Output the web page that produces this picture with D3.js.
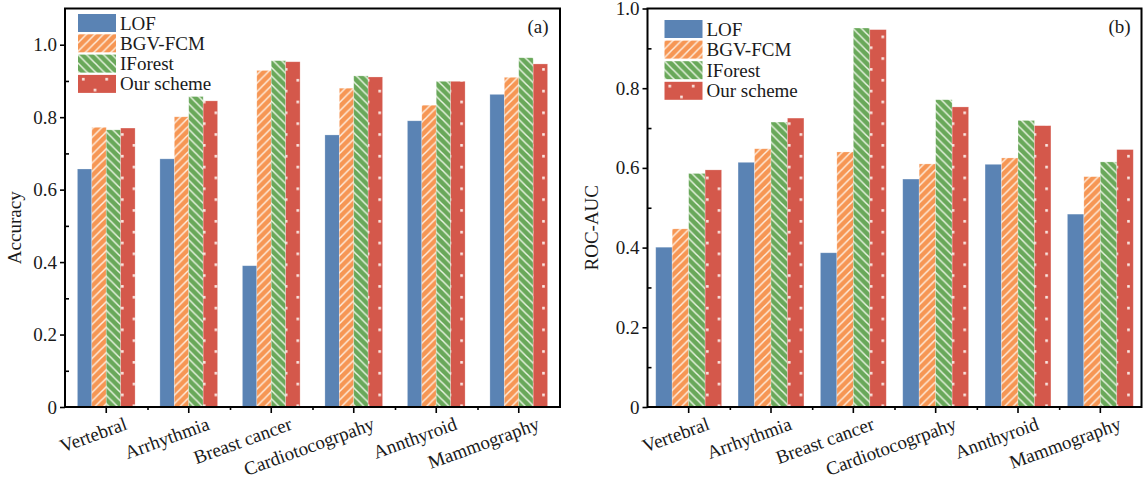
<!DOCTYPE html>
<html>
<head>
<meta charset="utf-8">
<script src="https://cdn.jsdelivr.net/npm/d3@7"></script>
<style>
  html, body { margin: 0; padding: 0; background: #fff; }
  svg text { font-family: 'Liberation Serif', 'Times New Roman', serif; fill: #1a1a1a; }
</style>
</head>
<body>
<svg id="chart" width="1143" height="489"></svg>
<script>
const categories = ['Vertebral', 'Arrhythmia', 'Breast cancer', 'Cardiotocogrpahy', 'Annthyroid', 'Mammography']
const seriesNames = ['LOF', 'BGV-FCM', 'IForest', 'Our scheme']

// (a) Accuracy
const accLOF = [0.657, 0.685, 0.390, 0.751, 0.790, 0.863]
const accBGV = [0.772, 0.801, 0.929, 0.880, 0.833, 0.910]
const accIForest = [0.765, 0.857, 0.956, 0.914, 0.899, 0.964]
const accOurs = [0.770, 0.845, 0.953, 0.911, 0.899, 0.947]

// (b) ROC-AUC
const aucLOF = [0.401, 0.614, 0.387, 0.572, 0.609, 0.484]
const aucBGV = [0.447, 0.648, 0.640, 0.610, 0.625, 0.578]
const aucIForest = [0.586, 0.715, 0.951, 0.771, 0.719, 0.615]
const aucOurs = [0.595, 0.725, 0.947, 0.753, 0.706, 0.646]

const yTicksMajor = [0, 0.2, 0.4, 0.6, 0.8, 1.0]
const yTicksMinor = [0.1, 0.3, 0.5, 0.7, 0.9]

const colors = ['#5a83b4', '#f69654', '#69a85a', '#d4584b']
const fills = ['url(#pLOF)', 'url(#pBGV)', 'url(#pIF)', 'url(#pOurs)']
const FS = 19

const svg = d3.select('#chart')
const defs = svg.append('defs')

// hatch / dot patterns
const H = 8.5
function hatch(id, bg, line, d) {
  const p = defs.append('pattern').attr('id', id)
    .attr('patternUnits', 'userSpaceOnUse').attr('width', H).attr('height', H)
  p.append('rect').attr('width', H).attr('height', H).attr('fill', bg)
  p.append('path').attr('d', d).attr('stroke', line).attr('stroke-width', 1.5).attr('fill', 'none')
}
defs.append('pattern').attr('id', 'pLOF')
  .attr('patternUnits', 'userSpaceOnUse').attr('width', H).attr('height', H)
  .append('rect').attr('width', H).attr('height', H).attr('fill', colors[0])
hatch('pBGV', colors[1], '#feeedf',
  `M-1,${H + 1} L${H + 1},-1 M-1,1 L1,-1 M${H - 1},${H + 1} L${H + 1},${H - 1}`)
hatch('pIF', colors[2], '#e9f4e2',
  `M-1,-1 L${H + 1},${H + 1} M${H - 1},-1 L${H + 1},1 M-1,${H - 1} L1,${H + 1}`)
const pd = defs.append('pattern').attr('id', 'pOurs')
  .attr('patternUnits', 'userSpaceOnUse').attr('width', 23.4).attr('height', 21.7)
pd.append('rect').attr('width', 23.4).attr('height', 21.7).attr('fill', colors[3])
pd.append('rect').attr('x', 4).attr('y', 3).attr('width', 2.6).attr('height', 2.6).attr('fill', '#fbeae5')
pd.append('rect').attr('x', 15.7).attr('y', 13.85).attr('width', 2.6).attr('height', 2.6).attr('fill', '#fbeae5')

function panel(opts) {
  const { x0, x1, yTop, yBot, yMax, values, barPad, yTitle, tag, titleX, legendX, legendY, legendStep } = opts
  const g = svg.append('g')

  const x = d3.scaleBand().domain(categories).range([x0, x1]).padding(0)
  const xs = d3.scaleBand().domain(seriesNames).range([0, x.bandwidth()]).paddingInner(0).paddingOuter(barPad)
  const y = d3.scaleLinear().domain([0, yMax]).range([yBot, yTop])

  // bars
  seriesNames.forEach((s, si) => {
    g.append('g').selectAll('rect')
      .data(values[si])
      .join('rect')
      .attr('x', (d, i) => x(categories[i]) + xs(s))
      .attr('y', d => y(d))
      .attr('width', xs.bandwidth())
      .attr('height', d => y(0) - y(d))
      .attr('fill', fills[si])
      .attr('stroke', 'rgba(255,255,255,0.35)')
      .attr('stroke-width', 0.7)
  })

  // y axis major (outward) and minor (inward)
  const yAx = g.append('g').attr('transform', `translate(${x0},0)`)
    .call(d3.axisLeft(y).tickValues(yTicksMajor).tickSize(5).tickPadding(3)
      .tickFormat(d => d === 0 ? '0' : d3.format('.1f')(d)))
  yAx.select('.domain').remove()
  yAx.selectAll('line').attr('stroke', '#000').attr('stroke-width', 1.6)
  yAx.selectAll('text').attr('font-size', FS).attr('font-family', "'Liberation Serif', serif").attr('fill', '#1a1a1a')

  const yMin = g.append('g').attr('transform', `translate(${x0},0)`)
    .call(d3.axisLeft(y).tickValues(yTicksMinor).tickSize(-4).tickFormat(''))
  yMin.select('.domain').remove()
  yMin.selectAll('line').attr('stroke', '#000').attr('stroke-width', 1.6)

  // x axis major ticks with rotated labels
  const xAx = g.append('g').attr('transform', `translate(0,${yBot})`)
    .call(d3.axisBottom(x).tickSize(6))
  xAx.select('.domain').remove()
  xAx.selectAll('line').attr('stroke', '#000').attr('stroke-width', 1.6)
  xAx.selectAll('text')
    .attr('x', 0).attr('y', 0).attr('dy', 0)
    .attr('text-anchor', 'end')
    .attr('transform', 'translate(22,22) rotate(-20)')
    .attr('font-size', FS).attr('font-family', "'Liberation Serif', serif").attr('fill', '#1a1a1a')

  // x minor ticks at category boundaries
  const bnd = d3.scaleLinear().domain([0, categories.length]).range([x0, x1])
  const xMin = g.append('g').attr('transform', `translate(0,${yBot})`)
    .call(d3.axisBottom(bnd).tickValues(d3.range(1, categories.length)).tickSize(3).tickFormat(''))
  xMin.select('.domain').remove()
  xMin.selectAll('line').attr('stroke', '#000').attr('stroke-width', 1.6)

  // frame
  g.append('rect')
    .attr('x', x0).attr('y', yTop)
    .attr('width', x1 - x0).attr('height', yBot - yTop)
    .attr('fill', 'none').attr('stroke', '#000').attr('stroke-width', 2)

  // axis title
  g.append('text')
    .attr('transform', `translate(${titleX},${(yTop + yBot) / 2 + 20}) rotate(-90)`)
    .attr('text-anchor', 'middle')
    .attr('font-size', FS)
    .text(yTitle)

  // panel tag
  g.append('text')
    .attr('x', x1 - 22).attr('y', yTop + 24)
    .attr('text-anchor', 'middle')
    .attr('font-size', FS)
    .text(tag)

  // legend
  const lg = g.append('g').attr('transform', `translate(${legendX},${legendY})`)
  seriesNames.forEach((s, si) => {
    const row = lg.append('g').attr('transform', `translate(0,${si * legendStep})`)
    row.append('rect').attr('width', 38).attr('height', 18).attr('fill', fills[si])
    row.append('text').attr('x', 42).attr('y', 15.5).attr('font-size', FS).text(s)
  })
}

panel({
  x0: 65, x1: 560, yTop: 8.5, yBot: 407, yMax: 1.1,
  values: [accLOF, accBGV, accIForest, accOurs],
  barPad: 0.86, yTitle: 'Accuracy', tag: '(a)', titleX: 21,
  legendX: 78, legendY: 14, legendStep: 20.3
})

panel({
  x0: 647.5, x1: 1141.5, yTop: 8.5, yBot: 407, yMax: 1.0,
  values: [aucLOF, aucBGV, aucIForest, aucOurs],
  barPad: 0.5, yTitle: 'ROC-AUC', tag: '(b)', titleX: 598,
  legendX: 664.5, legendY: 20, legendStep: 20.6
})
</script>
</body>
</html>
